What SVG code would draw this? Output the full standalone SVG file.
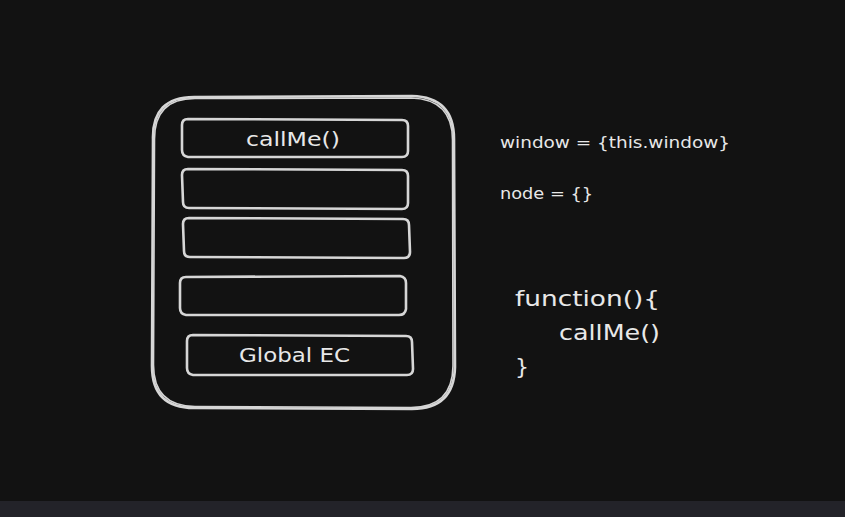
<svg xmlns="http://www.w3.org/2000/svg" width="845" height="517" viewBox="0 0 845 517">
<style>
.box{fill:none;stroke:#d6d6d6;stroke-width:2.6;stroke-linejoin:round;stroke-linecap:round}
.thin{fill:none;stroke:#d6d6d6;stroke-width:1.6;stroke-linecap:round}
.t{fill:#e8e8e8;font-family:"DejaVu Sans","Liberation Sans",sans-serif}
</style>
<rect x="0" y="0" width="845" height="517" fill="#121212"/>
<rect x="0" y="501" width="845" height="16" fill="#232329"/>
<g id="stack">
<path class="box" d="M194 97 L412 96 Q454 97 454 139 L455 367 Q454 409 412 409 L194 408 Q152 408 152 366 L153 139 Q152 97 194 97 Z"/>
<path class="thin" d="M195 98.5 L411 98 Q452.5 99 452.5 140 L453 366 Q452.5 407.5 411 407.5 L195 406.5 Q153.5 406 153.5 365 L154.5 140 Q154 98.5 195 98.5"/>
</g>
<g id="frame1">
<path class="box" d="M188 119 L402 120 Q408 120 408 126 L408 151 Q408 157 402 157 L188 157 Q182 156 182 150 L182 125 Q182 119 188 119 Z"/>
<text class="t" x="246" y="146" font-size="19" textLength="94" lengthAdjust="spacingAndGlyphs">callMe()</text>
</g>
<g id="frame2">
<path class="box" d="M188 169 L402 170 Q408 170 408 176 L408 203 Q408 209 402 209 L189 208 Q183 208 183 202 L182 175 Q182 169 188 169 Z"/>
</g>
<g id="frame3">
<path class="box" d="M189 218 L403 219 Q409 219 409 225 L410 252 Q410 258 404 258 L190 257 Q184 257 184 251 L183 224 Q183 218 189 218 Z"/>
</g>
<g id="frame4">
<path class="box" d="M186 277 L400 276 Q406 277 406 283 L406 309 Q405 315 399 315 L186 315 Q180 314 180 308 L180 283 Q180 277 186 277 Z"/>
</g>
<g id="frame5">
<path class="box" d="M193 335 L406 336 Q412 336 412 342 L413 369 Q413 375 407 375 L193 375 Q187 374 187 368 L187 341 Q187 335 193 335 Z"/>
<text class="t" x="239" y="362" font-size="19" textLength="111" lengthAdjust="spacingAndGlyphs">Global EC</text>
</g>
<g id="notes">
<text class="t" x="500" y="148" font-size="16" textLength="230" lengthAdjust="spacingAndGlyphs">window = {this.window}</text>
<text class="t" x="500" y="199" font-size="16" textLength="93" lengthAdjust="spacingAndGlyphs">node = {}</text>
<text class="t" x="515" y="306" font-size="22" textLength="145" lengthAdjust="spacingAndGlyphs">function(){</text>
<text class="t" x="559" y="340" font-size="22" textLength="101" lengthAdjust="spacingAndGlyphs">callMe()</text>
<text class="t" x="515" y="374" font-size="22">}</text>
</g>
<g id="connectors"/>
</svg>
